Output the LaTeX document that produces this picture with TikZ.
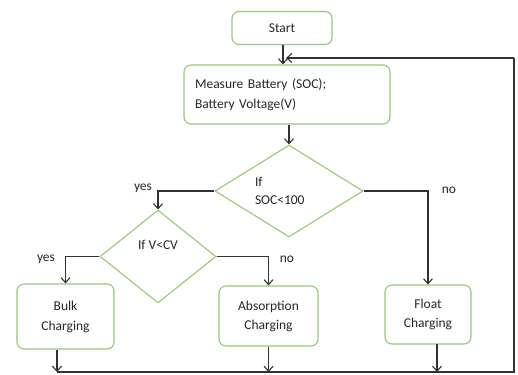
\documentclass[tikz,border=0pt]{standalone}
\usepackage{fontspec}
\setmainfont{Carlito}
\usetikzlibrary{shapes.geometric,arrows.meta}
\definecolor{boxgreen}{RGB}{150,200,115}
\definecolor{linegray}{RGB}{50,50,50}
\tikzset{
  procbox/.style={draw=boxgreen, line width=1.1pt, rounded corners=7pt,
    align=center, inner sep=0pt, text=black!85},
  decision/.style={draw=boxgreen, line width=1.1pt, diamond, aspect=1.6,
    align=left, inner sep=0pt, text=black!85},
  flow/.style={draw=linegray, line width=1.1pt,
    -{Straight Barb[length=5pt,width=9pt]}},
  wire/.style={draw=linegray, line width=1.1pt},
  answer/.style={text=black!85, inner sep=0pt}
}
\begin{document}
\begin{tikzpicture}[x=1pt,y=-1pt,font=\fontsize{13.5}{20}\selectfont]
  \useasboundingbox (0,0) rectangle (518,374);

  % boxes
  \node[procbox, minimum width=100pt, minimum height=33pt] (start) at (282,28) {Start};
  \node[procbox, minimum width=206pt, minimum height=59pt, text width=184pt,
        align=left] (measure) at (287,94.5) {Measure Battery (SOC);\\Battery Voltage(V)};

  % decisions
  \node[decision, minimum width=148pt, minimum height=92pt, text width=68pt,
        font=\fontsize{13.5}{18}\selectfont] (ifsoc) at (289,191) {If\\SOC<100};
  \node[decision, minimum width=116pt, minimum height=93pt] (ifv) at (158,256.5)
    {If V<CV\\[3pt]};

  % charging modes
  \node[procbox, minimum width=97pt, minimum height=65pt] (bulk) at (65.5,316.5)
    {Bulk\\Charging};
  \node[procbox, minimum width=99pt, minimum height=60pt,
        font=\fontsize{13.5}{19}\selectfont] (absorb) at (268.5,316)
    {Absorption\\Charging};
  \node[procbox, minimum width=86pt, minimum height=59pt,
        font=\fontsize{13.5}{19}\selectfont] (float) at (428,314.5)
    {Float\\Charging};

  % answers
  \node[answer] (yes1) at (143,188) {yes};
  \node[answer] (no1) at (449,190) {no};
  \node[answer] (yes2) at (46,259) {yes};
  \node[answer] (no2) at (287,259) {no};

  % loop back
  \coordinate (loopbl) at (57,372);
  \coordinate (loopbr) at (514,372);
  \coordinate (looptr) at (514,58);
  \coordinate (loopend) at (286,58);
  \coordinate (floatout) at (437,344);

  % main flow
  \draw[flow] (start.south -| 283,0) -- (measure.north -| 283,0);
  \draw[flow] (measure.south -| ifsoc.north) -- (ifsoc.north);
  \draw[flow] (ifsoc.west) -| (ifv.north);
  \draw[flow] (ifsoc.east) -| (float.north);
  \draw[flow] (ifv.west) -| (bulk.north);
  \draw[flow] (ifv.east) -| (absorb.north);

  % outputs
  \draw[flow] (bulk.south -| loopbl) -- (loopbl);
  \draw[flow] (absorb.south) -- (absorb.south |- loopbl);
  \draw[flow] (floatout) -- (floatout |- loopbl);
  \draw[wire] (loopbl) -- (loopbr) -- (looptr);
  \draw[flow] (looptr) -- (loopend);
\end{tikzpicture}
\end{document}
